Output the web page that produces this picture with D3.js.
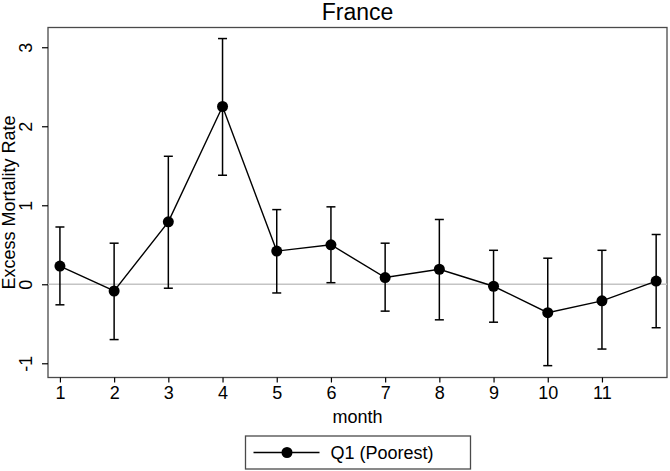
<!DOCTYPE html>
<html>
<head>
<meta charset="utf-8">
<script src="https://cdn.jsdelivr.net/npm/d3@7"></script>
<style>
  body { margin: 0; background: #fff; }
  text { font-family: "Liberation Sans", Arial, sans-serif; fill: #000; }
</style>
</head>
<body>
<svg></svg>
<script>
var svgWidth = 670, svgHeight = 471;

// data
var months = [1, 2, 3, 4, 5, 6, 7, 8, 9, 10, 11, 12];
var estimate = [0.23, -0.085, 0.79, 2.25, 0.42, 0.50, 0.085, 0.19, -0.025, -0.36, -0.21, 0.04];
var upper = [0.725, 0.52, 1.62, 3.11, 0.945, 0.98, 0.52, 0.82, 0.43, 0.33, 0.43, 0.63];
var lower = [-0.26, -0.70, -0.05, 1.38, -0.11, 0.02, -0.34, -0.45, -0.48, -1.03, -0.82, -0.55];
var xTicks = [1, 2, 3, 4, 5, 6, 7, 8, 9, 10, 11];
var yTicks = [-1, 0, 1, 2, 3];
var seriesName = "Q1 (Poorest)";

var margin = {top: 27.5, right: 3, bottom: 93.5, left: 48};
var width = svgWidth - margin.left - margin.right,
    height = svgHeight - margin.top - margin.bottom;

var svg = d3.select("svg")
            .attr("width", svgWidth)
            .attr("height", svgHeight);

var g = svg.append("g")
           .attr("transform", "translate(" + margin.left + "," + margin.top + ")");

var x = d3.scaleLinear().domain([0.78, 12.2]).range([0, width]);
var y = d3.scaleLinear().domain([-1.18, 3.25]).range([height, 0]);

var rows = months.map(function(m, i) {
    return {month: m, est: estimate[i], hi: upper[i], lo: lower[i]};
});

// plain hyphen for negatives, like the original
var plain = function(d) { return String(d); };

// frame
g.append("rect")
 .attr("width", width)
 .attr("height", height)
 .attr("fill", "none")
 .attr("stroke", "#4a4a4a")
 .attr("stroke-width", 1.3);

// zero line
g.append("line")
 .attr("x1", 0).attr("x2", width)
 .attr("y1", y(0)).attr("y2", y(0))
 .attr("stroke", "#c4c4c4")
 .attr("stroke-width", 1.5);

// axes
var xAxis = g.append("g")
  .call(d3.axisBottom(x).tickValues(xTicks).tickFormat(plain).tickSize(5).tickPadding(4));
xAxis.attr("transform", "translate(0," + height + ")");
xAxis.select(".domain").remove();
xAxis.selectAll("text").style("font-size", "18px");

var yAxis = g.append("g")
  .call(d3.axisLeft(y).tickValues(yTicks).tickFormat(plain).tickSize(6).tickPadding(4));
yAxis.select(".domain").remove();
yAxis.selectAll("text")
  .style("font-size", "18px")
  .attr("text-anchor", "middle")
  .attr("dy", null)
  .attr("transform", "rotate(-90)")
  .attr("x", 0)
  .attr("y", -16);
g.selectAll(".tick line").attr("stroke", "#000").attr("stroke-width", 1.2);

// error bars
var bars = g.selectAll(".err")
  .data(rows)
  .enter().append("g")
  .attr("class", "err")
  .attr("stroke", "#000")
  .attr("stroke-width", 1.5);

bars.append("line")
  .attr("x1", function(d) { return x(d.month); })
  .attr("x2", function(d) { return x(d.month); })
  .attr("y1", function(d) { return y(d.hi); })
  .attr("y2", function(d) { return y(d.lo); });
bars.append("line")
  .attr("x1", function(d) { return x(d.month) - 4.5; })
  .attr("x2", function(d) { return x(d.month) + 4.5; })
  .attr("y1", function(d) { return y(d.hi); })
  .attr("y2", function(d) { return y(d.hi); });
bars.append("line")
  .attr("x1", function(d) { return x(d.month) - 4.5; })
  .attr("x2", function(d) { return x(d.month) + 4.5; })
  .attr("y1", function(d) { return y(d.lo); })
  .attr("y2", function(d) { return y(d.lo); });

// line + markers
var line = d3.line()
  .x(function(d) { return x(d.month); })
  .y(function(d) { return y(d.est); });

g.append("path")
 .datum(rows)
 .attr("d", line)
 .attr("fill", "none")
 .attr("stroke", "#000")
 .attr("stroke-width", 1.4);

g.selectAll(".pt")
 .data(rows)
 .enter().append("circle")
 .attr("class", "pt")
 .attr("cx", function(d) { return x(d.month); })
 .attr("cy", function(d) { return y(d.est); })
 .attr("r", 5.5)
 .attr("fill", "#000");

// titles
svg.append("text")
   .attr("x", margin.left + width / 2)
   .attr("y", 20)
   .attr("text-anchor", "middle")
   .style("font-size", "23px")
   .text("France");

svg.append("text")
   .attr("x", margin.left + width / 2)
   .attr("y", 423)
   .attr("text-anchor", "middle")
   .style("font-size", "18px")
   .text("month");

svg.append("text")
   .attr("transform", "translate(15," + (margin.top + height / 2) + ") rotate(-90)")
   .attr("text-anchor", "middle")
   .style("font-size", "18px")
   .text("Excess Mortality Rate");

// legend
var legend = svg.append("g").attr("transform", "translate(245.5,436)");
legend.append("rect")
  .attr("width", 225)
  .attr("height", 33)
  .attr("fill", "#fff")
  .attr("stroke", "#4a4a4a")
  .attr("stroke-width", 1.3);
legend.append("line")
  .attr("x1", 8).attr("x2", 74)
  .attr("y1", 16.5).attr("y2", 16.5)
  .attr("stroke", "#000")
  .attr("stroke-width", 1.4);
legend.append("circle")
  .attr("cx", 41.5).attr("cy", 16.5)
  .attr("r", 5.5)
  .attr("fill", "#000");
legend.append("text")
  .attr("x", 85)
  .attr("y", 23)
  .style("font-size", "18px")
  .text(seriesName);
</script>
</body>
</html>
